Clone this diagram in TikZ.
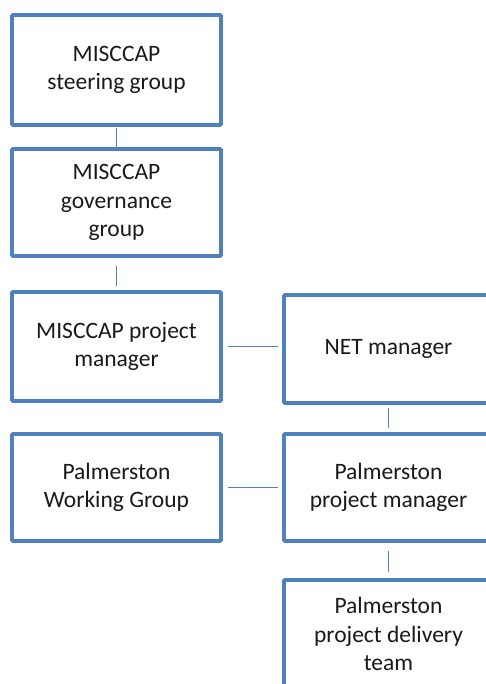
\documentclass[tikz,border=0pt]{standalone}
\usepackage{fontspec}
\setmainfont{Carlito}
\usetikzlibrary{positioning}
\definecolor{boxblue}{HTML}{4F81BD}

\begin{document}
\begin{tikzpicture}[x=1pt,y=1pt,box/.style={draw=boxblue,line width=3.6pt,rounded corners=1pt,minimum width=209pt,minimum height=108pt,inner sep=0pt,align=center,text=black!90,font=\fontsize{23.5}{28.5}\selectfont},link/.style={draw=boxblue,line width=1.4pt}]
            \useasboundingbox (0,0) rectangle (486,-684);
            \clip (0,0) rectangle (486,-684);
            
            \node[box,minimum height=110pt] (steer) at (116.5,-70) {MISCCAP\\steering group};
            \node[box,minimum height=107pt] (gov) at (116.5,-202.5) {MISCCAP\\governance\\group};
            \node[box,minimum height=109pt] (mpm) at (116.5,-346.5) {MISCCAP project\\manager};
            \node[box,minimum height=107pt] (pwg) at (116.5,-487.5) {Palmerston\\Working Group};
            
            \node[box] (net) at (388.5,-349) {NET manager};
            \node[box,minimum height=107pt] (ppm) at (388.5,-487.5) {Palmerston\\project manager};
            \node[box] (team) at (388.5,-634) {Palmerston\\project delivery\\team};
            
            \draw[link,shorten <=1pt,shorten >=0pt] (steer.south) -- (gov.north);
            \draw[link,shorten <=8pt,shorten >=4pt] (gov.south) -- (mpm.north);
            \draw[link,shorten <=5pt,shorten >=4pt] (mpm.east) -- (mpm.east -| net.west);
            \draw[link,shorten <=3pt,shorten >=4pt] (net.south) -- (ppm.north);
            \draw[link,shorten <=5pt,shorten >=4pt] (pwg.east) -- (ppm.west);
            \draw[link,shorten <=8pt,shorten >=6pt] (ppm.south) -- (team.north);
        \end{tikzpicture}
\end{document}
